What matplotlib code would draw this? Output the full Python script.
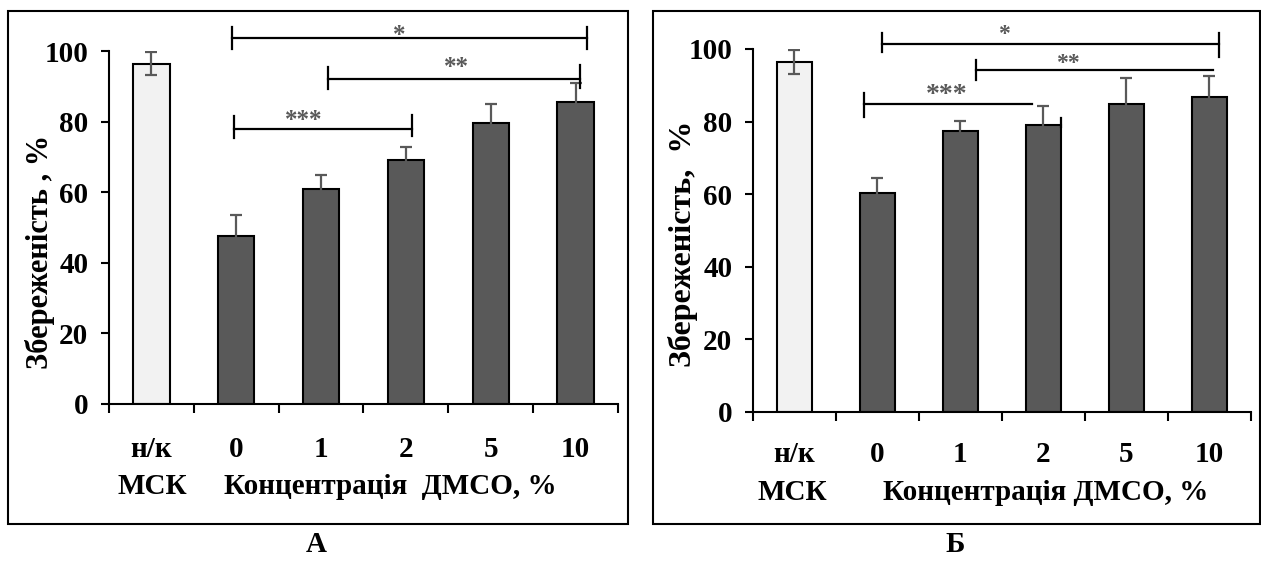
import matplotlib
matplotlib.use("Agg")
import matplotlib.pyplot as plt
from matplotlib.patches import Rectangle

plt.rcParams["font.family"] = ["Liberation Serif", "DejaVu Serif"]
plt.rcParams["font.weight"] = "bold"

# shared categories (index 0 = untreated control, rest = DMSO %)
CATEGORIES = ["н/к", "0", "1", "2", "5", "10"]

# panel A
MEANS_A = [96.4, 47.6, 61.0, 69.2, 79.7, 85.6]
ERRS_A = [3.3, 6.0, 4.0, 3.5, 5.3, 5.3]

# panel B
MEANS_B = [96.4, 60.4, 77.4, 79.0, 84.8, 86.8]
ERRS_B = [3.4, 4.1, 2.8, 5.2, 7.1, 5.8]

# significance brackets: stars, x from, x to, line y, left tick (lo, hi), right tick (lo, hi), star x, star y, star size
BRACKETS_A = [
    ("*", 0.955, 5.13, 103.7, (100.7, 106.8), (100.7, 106.8), 2.92, 106.5, 18),
    ("**", 2.08, 5.05, 92.2, (89.1, 95.5), (89.6, 95.9), 3.60, 97.3, 18),
    ("***", 0.975, 3.07, 78.0, (75.3, 81.5), (75.8, 82.0), 1.79, 82.5, 18),
]
BRACKETS_B = [
    ("*", 1.06, 5.12, 101.5, (99.1, 104.5), (97.8, 104.5), 2.52, 105.8, 17),
    ("**", 2.19, 5.04, 94.1, (91.5, 97.0), None, 3.30, 97.8, 17),
    ("***", 0.84, 2.86, 84.8, (81.2, 88.0), None, 1.83, 89.5, 20),
]
# stray end mark above bar "2" in panel B
STRAY_B = (3.21, 78.6, 80.9)

DARK = "#595959"
LIGHT = "#f2f2f2"


def draw_panel(ax, means, errs, ylabel, ylabel_pos, ylabel_size, xlabel, xlabel_pos, msk_pos,
               brackets, tick_pad):
    x = list(range(len(CATEGORIES)))
    colors = [LIGHT] + [DARK] * (len(CATEGORIES) - 1)
    ax.bar(x, means, width=0.43, color=colors, edgecolor="black", linewidth=1.5, zorder=2)
    ax.errorbar(x, means, yerr=errs, fmt="none", ecolor=DARK, elinewidth=1.6,
                capsize=4, capthick=1.6, zorder=3)

    ax.set_xlim(-0.5, len(CATEGORIES) - 0.5)
    ax.set_ylim(0, 100)
    ax.set_yticks([0, 20, 40, 60, 80, 100])
    ax.set_xticks(x)
    ax.set_xticklabels(CATEGORIES)
    ax.set_xticks([i - 0.5 for i in range(len(CATEGORIES) + 1)], minor=True)
    ax.tick_params(axis="x", which="major", length=0, pad=tick_pad, labelsize=21)
    ax.tick_params(axis="x", which="minor", length=6.5, width=1.5, direction="out")
    ax.tick_params(axis="y", length=5.8, width=1.5, direction="out", pad=9, labelsize=21)

    for spine in ("top", "right"):
        ax.spines[spine].set_visible(False)
    for spine in ("left", "bottom"):
        ax.spines[spine].set_linewidth(1.5)

    ax.text(ylabel_pos[0], ylabel_pos[1], ylabel, rotation=90, ha="center", va="center",
            fontsize=ylabel_size, transform=ax.transAxes)
    ax.text(xlabel_pos[0], xlabel_pos[1], xlabel, ha="center", va="center",
            fontsize=21, transform=ax.transAxes)
    ax.text(msk_pos[0], msk_pos[1], "МСК", ha="center", va="center",
            fontsize=21, transform=ax.transAxes)

    for stars, x0, x1, y, lt, rt, sx, sy, size in brackets:
        ax.plot([x0, x1], [y, y], color="black", lw=1.6, clip_on=False, zorder=4)
        ax.plot([x0, x0], lt, color="black", lw=1.6, clip_on=False, zorder=4)
        if rt is not None:
            ax.plot([x1, x1], rt, color="black", lw=1.6, clip_on=False, zorder=4)
        # asterisks sit high in the em box, so pull them down onto the given centre
        ax.annotate(stars, (sx, sy), xytext=(0, -0.29 * size), textcoords="offset points",
                    ha="center", va="center", fontsize=size, color=DARK,
                    annotation_clip=False)


fig = plt.figure(figsize=(12.61, 5.75), dpi=100)

ax_a = fig.add_axes([0.0864, 0.2974, 0.4037, 0.6139])
draw_panel(ax_a, MEANS_A, ERRS_A, "Збереженість , %", (-0.1356, 0.43), 22,
           "Концентрація  ДМСО, %", (0.552, -0.235), (0.0845, -0.235), BRACKETS_A, 23)

ax_b = fig.add_axes([0.5971, 0.2835, 0.3949, 0.6313])
draw_panel(ax_b, MEANS_B, ERRS_B, "Збереженість,  %", (-0.1406, 0.462), 23,
           "Концентрація ДМСО, %", (0.588, -0.223), (0.080, -0.223), BRACKETS_B, 21)
ax_b.plot([STRAY_B[0], STRAY_B[0]], STRAY_B[1:], color="black", lw=1.6, zorder=4)

# outer frames round each panel
fig.add_artist(Rectangle((8 / 1261, 51 / 575), 620 / 1261, 513 / 575,
                         transform=fig.transFigure, fill=False, lw=1.5, edgecolor="black"))
fig.add_artist(Rectangle((653 / 1261, 51 / 575), 607 / 1261, 513 / 575,
                         transform=fig.transFigure, fill=False, lw=1.5, edgecolor="black"))

fig.text(316 / 1261, 30 / 575, "А", ha="center", va="center", fontsize=21)
fig.text(955 / 1261, 30 / 575, "Б", ha="center", va="center", fontsize=21)

fig.savefig("out.png", dpi=100, facecolor="white")
